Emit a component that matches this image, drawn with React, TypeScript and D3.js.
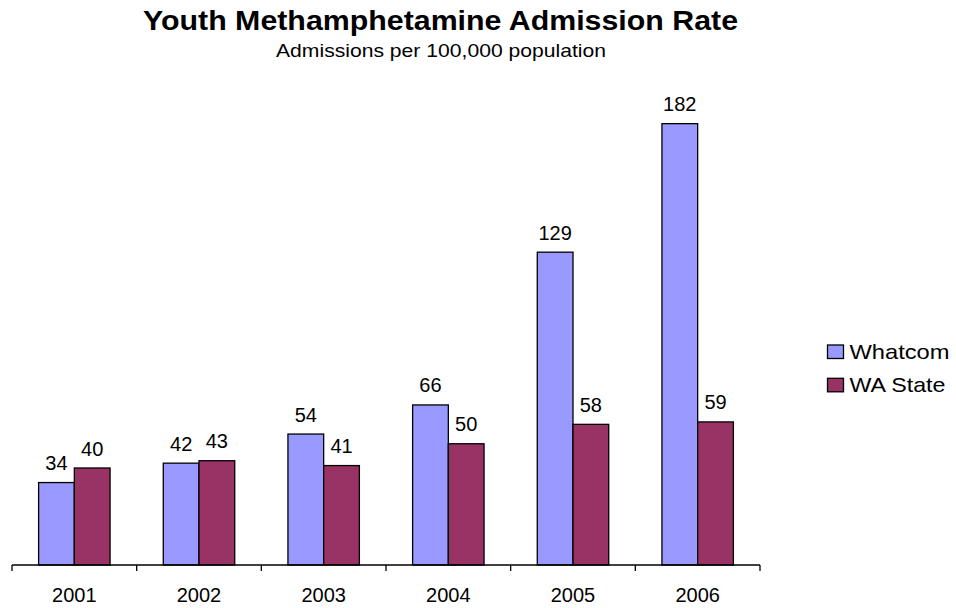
import React from "react";
import * as d3 from "d3";

const years = ["2001", "2002", "2003", "2004", "2005", "2006"];
const whatcom = [34, 42, 54, 66, 129, 182];
const waState = [40, 43, 41, 50, 58, 59];
const seriesNames = ["Whatcom", "WA State"];
const seriesColors = ["#9999FF", "#993366"];

const W = 956;
const H = 608;
const plot = { left: 12, right: 760, top: 80, bottom: 565 };

export default function App() {
  const x0 = d3.scaleBand<string>().domain(years).range([plot.left, plot.right]).paddingInner(0).paddingOuter(0);
  const x1 = d3
    .scaleBand<string>()
    .domain(seriesNames)
    .range([0, x0.bandwidth()])
    .paddingInner(0)
    .paddingOuter(0.745);
  const y = d3.scaleLinear().domain([0, 200]).range([plot.bottom, plot.top]);

  const series = [whatcom, waState];
  const font = "Arial, 'Liberation Sans', sans-serif";
  const ticks = d3.range(years.length + 1).map((i) => plot.left + i * x0.step());

  return (
    <svg width={W} height={H} style={{ position: "absolute", left: 0, top: 0 }} fontFamily={font}>
      <rect width={W} height={H} fill="#fff" />
      <text
        x={143}
        y={29.5}
        fontSize={28}
        fontWeight="bold"
        fill="#000"
        textLength={595}
        lengthAdjust="spacingAndGlyphs"
      >
        Youth Methamphetamine Admission Rate
      </text>
      <text x={276} y={57} fontSize={19} fill="#000" textLength={330} lengthAdjust="spacingAndGlyphs">
        Admissions per 100,000 population
      </text>

      {years.map((yr, i) => (
        <g key={yr} transform={`translate(${x0(yr)},0)`}>
          {series.map((vals, s) => {
            const bx = x1(seriesNames[s])!;
            const v = vals[i];
            return (
              <g key={s}>
                <rect
                  x={bx}
                  y={y(v)}
                  width={x1.bandwidth()}
                  height={y(0) - y(v)}
                  fill={seriesColors[s]}
                  stroke="#000"
                  strokeWidth={1.3}
                />
                <text
                  x={bx + x1.bandwidth() / 2}
                  y={y(v) - 12.5}
                  textAnchor="middle"
                  fontSize={20}
                  fill="#000"
                >
                  {v}
                </text>
              </g>
            );
          })}
          <text x={x0.bandwidth() / 2} y={602} textAnchor="middle" fontSize={20} fill="#000">
            {yr}
          </text>
        </g>
      ))}

      <line x1={plot.left} x2={plot.right} y1={plot.bottom} y2={plot.bottom} stroke="#000" strokeWidth={1.3} />
      {ticks.map((t, i) => (
        <line key={i} x1={t} x2={t} y1={plot.bottom} y2={plot.bottom + 6} stroke="#000" strokeWidth={1.3} />
      ))}

      {seriesNames.map((name, s) => (
        <g key={name} transform={`translate(827.5,${345 + s * 33.3})`}>
          <rect x={0} y={0} width={16} height={13.5} fill={seriesColors[s]} stroke="#000" strokeWidth={1.3} />
          <text
            x={22}
            y={13.5}
            fontSize={21}
            fill="#000"
            textLength={s === 0 ? 100 : 96}
            lengthAdjust="spacingAndGlyphs"
          >
            {name}
          </text>
        </g>
      ))}
    </svg>
  );
}
